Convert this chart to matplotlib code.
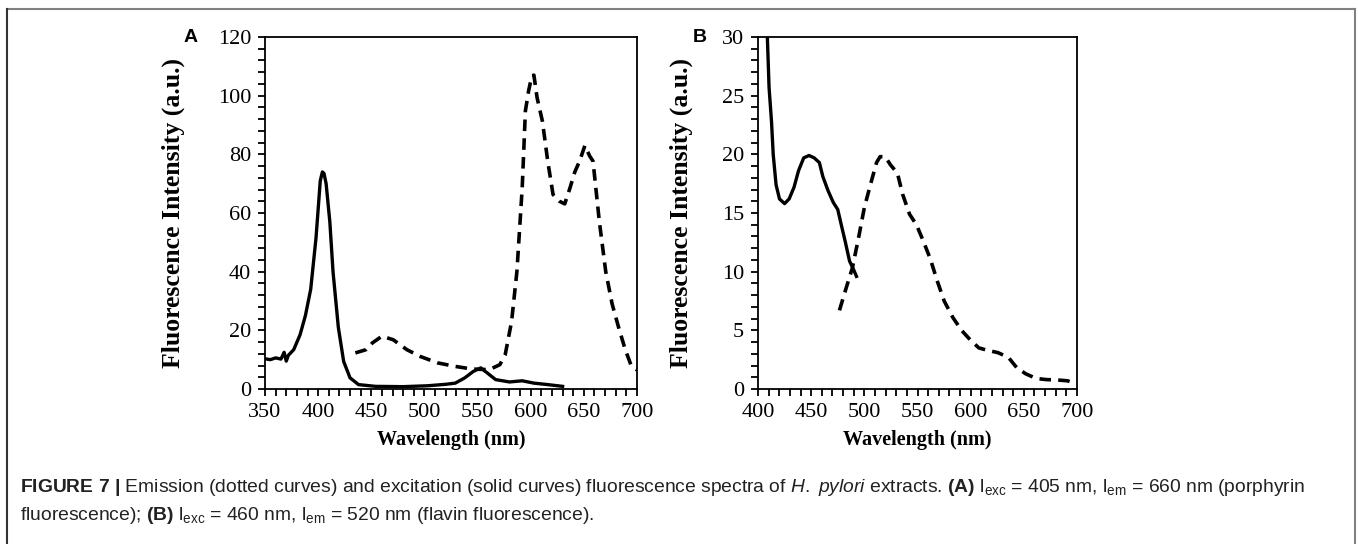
import numpy as np
import matplotlib
matplotlib.use("Agg")
import matplotlib.pyplot as plt
from matplotlib.lines import Line2D

plt.rcParams['font.family'] = 'Liberation Serif'
plt.rcParams['mathtext.fontset'] = 'custom'
plt.rcParams['mathtext.rm'] = 'Liberation Sans'
plt.rcParams['mathtext.it'] = 'Liberation Sans:italic'
plt.rcParams['mathtext.bf'] = 'Liberation Sans:bold'

# panel A - excitation (solid)
a_exc_x = [350, 355, 360, 365, 368, 370, 372, 377, 383, 388, 393, 398, 402, 404, 405.5, 407.5,
           411, 414, 419, 424, 430, 438, 454, 480, 503, 520, 529, 538, 546, 553, 559, 567,
           580, 592, 603, 616, 630]
a_exc_y = [10.3, 10.0, 10.6, 10.2, 12.5, 9.5, 11.5, 13.4, 18.5, 25, 34, 51.5, 71, 74, 73.5, 70,
           57, 40, 21, 9.4, 3.8, 1.5, 0.9, 0.8, 1.1, 1.6, 2.0, 3.8, 6.0, 7.2, 5.5, 3.2,
           2.4, 2.8, 2.0, 1.5, 0.9]
# panel A - emission (dashed)
a_em_x = [435, 445, 451, 460, 470.6, 483.5, 496, 512.5, 529, 545, 561, 571, 576, 582, 587, 592,
          595, 598, 601, 603, 606, 611, 616, 621, 627, 632, 637, 641.5, 646, 651, 655.5, 658.6,
          664.6, 670.6, 676.6, 682.7, 688.8, 694.5, 700]
a_em_y = [12.3, 13.4, 15.7, 18, 16.8, 13.4, 11.1, 8.9, 7.7, 6.8, 6.6, 8.3, 11.7, 23, 40, 68.6,
          94.8, 101.6, 106.7, 107, 99.3, 91.3, 77.7, 66.3, 64, 63.1, 68.6, 74, 77.7, 83, 79.4, 77.7,
          57, 40, 29, 21, 13.6, 8, 6.5]

# panel B - excitation (solid)
b_exc_x = [407.5, 408.8, 410.4, 412.7, 414.3, 417, 420.2, 425, 429.3, 433.9, 438.1, 443, 448,
           452.8, 457.7, 461, 465.9, 470.8, 475, 478.3, 482.2, 486.1, 489.3, 492.6]
b_exc_y = [33, 30, 25.7, 22.8, 20, 17.4, 16.2, 15.8, 16.2, 17.2, 18.6, 19.7, 19.9,
           19.7, 19.3, 18.1, 16.9, 15.9, 15.3, 14, 12.5, 10.9, 10.3, 9.6]
# panel B - emission (dashed)
b_em_x = [476.6, 482.2, 488.7, 494.6, 500.1, 506.6, 511.5, 514.8, 519.7, 524.6, 531.1, 536,
          542.5, 549, 555.5, 562, 568.6, 575.1, 583.2, 591.4, 599.5, 607.7, 615.8, 625.6,
          635.4, 643.5, 651.7, 661.5, 671.3, 681.1, 690.9, 698]
b_em_y = [6.7, 8.4, 10.3, 12.9, 15.5, 17.7, 19.3, 19.8, 19.8, 19.1, 18.4, 16.6,
          14.9, 14, 12.6, 11.1, 9.2, 7.5, 6.1, 5.0, 4.2, 3.5, 3.3, 3.1,
          2.7, 1.8, 1.3, 0.9, 0.8, 0.77, 0.7, 0.5]

ylabel = "Fluorescence Intensity (a.u.)"
xlabel = "Wavelength (nm)"
caption1 = (r"$\mathbf{FIGURE\ 7\ |}$ Emission (dotted curves) and excitation (solid curves) "
            r"fluorescence spectra of $\mathit{H.\ pylori}$ extracts. $\mathbf{(A)}$ "
            r"l$_{\mathrm{exc}}$ = 405 nm, l$_{\mathrm{em}}$ = 660 nm (porphyrin")
caption2 = (r"fluorescence); $\mathbf{(B)}$ l$_{\mathrm{exc}}$ = 460 nm, "
            r"l$_{\mathrm{em}}$ = 520 nm (flavin fluorescence).")

W, H = 1358, 544
fig = plt.figure(figsize=(W / 100, H / 100), dpi=100)


def px_axes(left, top, right, bottom):
    return fig.add_axes([left / W, 1 - bottom / H, (right - left) / W, (bottom - top) / H])


def style(ax, xlim, ylim, xmaj, xmin, ymaj, ymin):
    ax.set_xlim(xlim)
    ax.set_ylim(ylim)
    ax.set_xticks(np.arange(xlim[0], xlim[1] + 1, xmaj))
    ax.set_xticks(np.arange(xlim[0], xlim[1] + 1, xmin), minor=True)
    ax.set_yticks(np.arange(ylim[0], ylim[1] + 1, ymaj))
    ax.set_yticks(np.arange(ylim[0], ylim[1] + 0.01, ymin), minor=True)
    ax.tick_params(which='both', direction='out', length=5, width=1.3, top=False, right=False,
                   labelsize=16, pad=5)
    for s in ax.spines.values():
        s.set_linewidth(1.3)
    ax.set_xlabel(xlabel, fontsize=14.5, fontweight='bold', labelpad=6)
    ax.set_ylabel(ylabel, fontsize=18.5, fontweight='bold')


axA = px_axes(265, 37, 637, 389)
axA.plot(a_exc_x, a_exc_y, color='black', lw=2.4, solid_joinstyle='round')
axA.plot(a_em_x, a_em_y, color='black', lw=2.6, dashes=(3.2, 2.0))
style(axA, (350, 700), (0, 120), 50, 10, 20, 4)
axA.yaxis.set_label_coords(-0.215, 0.5)

axB = px_axes(758, 37, 1077, 389)
axB.plot(b_exc_x, b_exc_y, color='black', lw=2.4, solid_joinstyle='round')
axB.plot(b_em_x, b_em_y, color='black', lw=2.6, dashes=(3.2, 2.0))
style(axB, (400, 700), (0, 30), 50, 10, 5, 1)
axB.yaxis.set_label_coords(-0.204, 0.5)

fig.text(191 / W, 1 - 37 / H, "A", family='Liberation Sans', fontweight='bold', fontsize=14,
         ha='center', va='center')
fig.text(700 / W, 1 - 37 / H, "B", family='Liberation Sans', fontweight='bold', fontsize=14,
         ha='center', va='center')

fig.text(20 / W, 1 - 492 / H, caption1, family='Liberation Sans', fontsize=13.9, color='#222222',
         va='baseline')
fig.text(20 / W, 1 - 520 / H, caption2, family='Liberation Sans', fontsize=13.9, color='#222222',
         va='baseline')

# frame round the figure
fig.add_artist(Line2D([7 / W, 1355 / W], [1 - 9 / H, 1 - 9 / H], transform=fig.transFigure,
                      color='#808080', lw=1.5))
fig.add_artist(Line2D([7 / W, 7 / W], [1 - 9 / H, 0], transform=fig.transFigure,
                      color='#333333', lw=1.5))
fig.add_artist(Line2D([1355 / W, 1355 / W], [1 - 9 / H, 0], transform=fig.transFigure,
                      color='#808080', lw=1.5))

fig.savefig("out.png", dpi=100)
